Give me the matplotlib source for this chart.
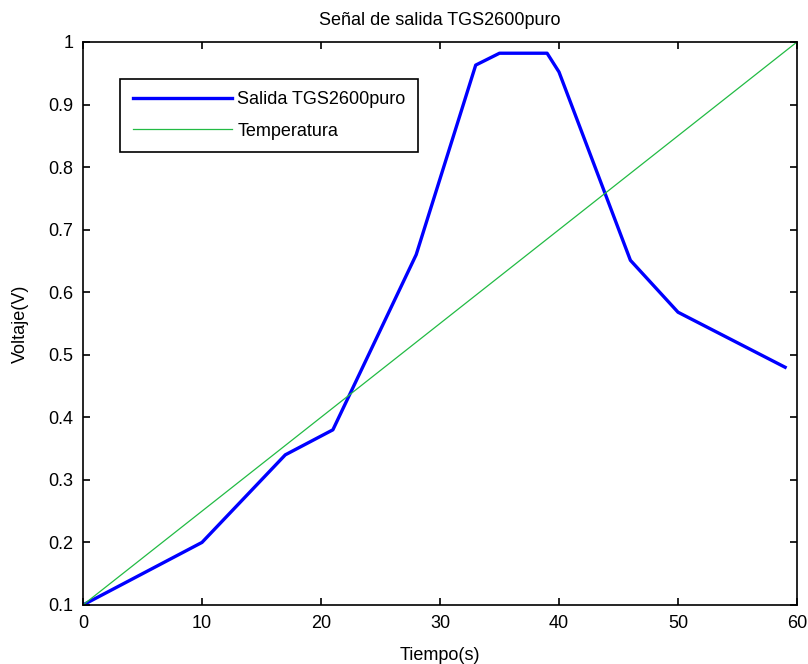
import matplotlib
matplotlib.use("Agg")
import matplotlib.pyplot as plt

# Salida TGS2600puro (lectura del grafico)
t_salida = [0, 10, 17, 21, 28, 33, 35, 39, 40, 46, 50, 59]
v_salida = [0.10, 0.20, 0.34, 0.38, 0.66, 0.963, 0.982, 0.982, 0.952, 0.651, 0.568, 0.48]

# Temperatura
t_temp = [0, 60]
v_temp = [0.10, 1.00]

xticks = [0, 10, 20, 30, 40, 50, 60]
yticks = [0.1, 0.2, 0.3, 0.4, 0.5, 0.6, 0.7, 0.8, 0.9, 1.0]
ytick_labels = ['0.1', '0.2', '0.3', '0.4', '0.5', '0.6', '0.7', '0.8', '0.9', '1']

plt.rcParams['font.family'] = ['Liberation Sans', 'DejaVu Sans']

fig = plt.figure(figsize=(8.08, 6.64), dpi=100)
ax = fig.add_axes([0.1027, 0.0889, 0.8837, 0.8479])

ax.plot(t_salida, v_salida, color='#0000ff', linewidth=2.4, label='Salida TGS2600puro')
ax.plot(t_temp, v_temp, color='#22bb44', linewidth=0.9, label='Temperatura')

ax.set_xlim(0, 60)
ax.set_ylim(0.1, 1.0)
ax.set_xticks(xticks)
ax.set_yticks(yticks)
ax.set_yticklabels(ytick_labels)
ax.tick_params(direction='in', top=True, right=True, labelsize=13, length=5, width=1.2, pad=7)
for s in ax.spines.values():
    s.set_linewidth(1.2)

ax.set_xlabel('Tiempo(s)', fontsize=13, labelpad=11)
ax.set_ylabel('Voltaje(V)', fontsize=13, labelpad=14)
ax.set_title('Señal de salida TGS2600puro', fontsize=13, pad=12)

leg = ax.legend(loc='upper left', bbox_to_anchor=(0.052, 0.935), fontsize=13,
                fancybox=False, framealpha=1, edgecolor='black', borderpad=0.7,
                handlelength=5.5, handletextpad=0.3, labelspacing=0.8, borderaxespad=0)
leg.get_frame().set_linewidth(1.2)

fig.savefig('out.png', dpi=100)
